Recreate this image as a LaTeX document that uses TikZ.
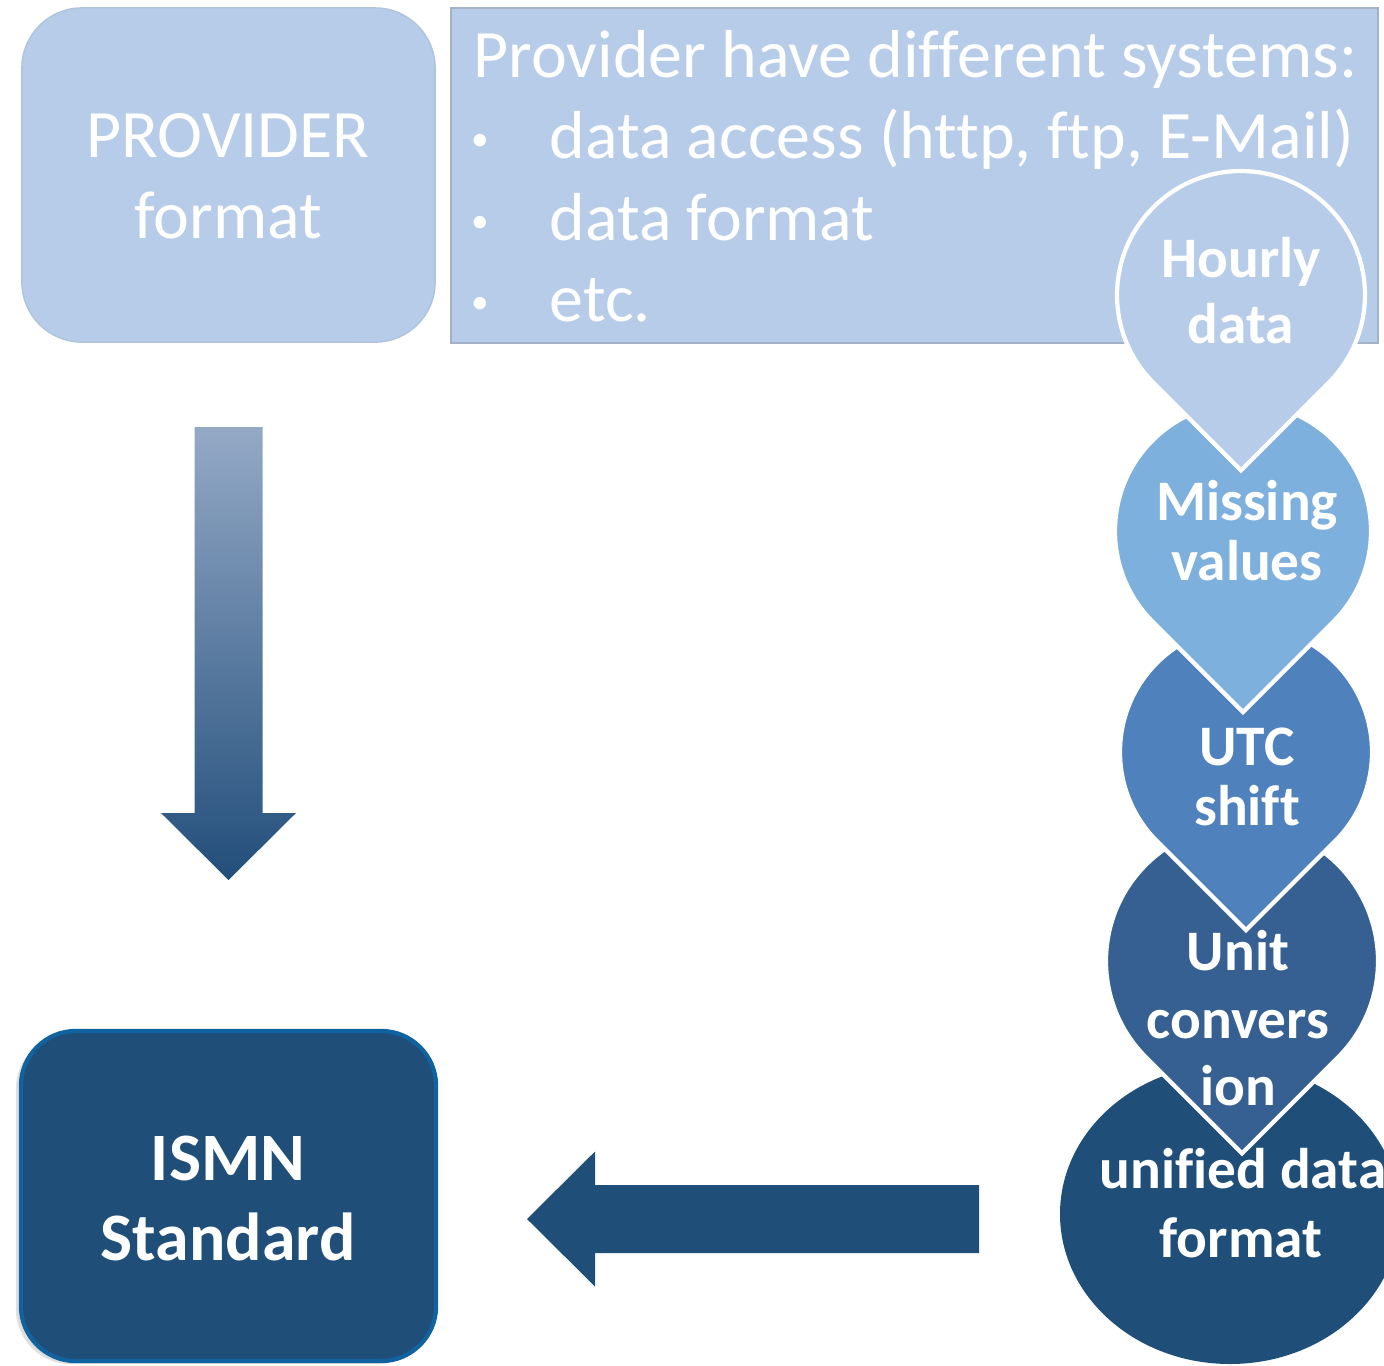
\documentclass[tikz,border=0pt]{standalone}
\usepackage{fontspec}
\setmainfont{Carlito}[Ligatures={NoCommon}]
\usetikzlibrary{calc,shadows}
\definecolor{lightblue}{HTML}{B7CCE8}
\definecolor{missblue}{HTML}{7EB0DD}
\definecolor{utcblue}{HTML}{4F81BD}
\definecolor{unitblue}{HTML}{376092}
\definecolor{darkblue}{HTML}{1F4E79}
\definecolor{ismnborder}{HTML}{10639E}
\definecolor{arrowtop}{HTML}{94A9C6}
\definecolor{arrowbot}{HTML}{224E7B}
\definecolor{boxborder}{HTML}{A3B2C8}
\definecolor{provborder}{HTML}{B0C3DD}
\newcommand\teardrop[3]{%
  \filldraw[dropline, fill=#3] (#1) ++(45:#2) arc[start angle=45, end angle=-225, radius=#2]
    -- ++({#2*0.70711},{#2*0.70711}) -- cycle;}
\begin{document}
\begin{tikzpicture}[x=0.01cm, y=-0.01cm,
  txt/.style={text=white, inner sep=0pt, anchor=base},
  provtxt/.style={txt, font=\fontsize{19.3}{23}\selectfont},
  listtxt/.style={txt, anchor=base west, font=\fontsize{19.3}{23}\selectfont},
  bullettxt/.style={text=white, inner sep=0pt, anchor=center, font=\fontsize{10}{12}\selectfont},
  droptxt/.style={txt, font=\bfseries\fontsize{16.3}{19}\selectfont},
  ismntxt/.style={txt, font=\bfseries\fontsize{19.3}{23}\selectfont},
  dropline/.style={draw=white, line width=1.2pt, line join=miter},
  blockbox/.style={inner sep=0pt, outer sep=0pt},
]
\useasboundingbox (0,0) rectangle (1384,1365);
\begin{scope}
\clip (0,0) rectangle (1384,1365);

% Provider box
\node[blockbox, draw=provborder, line width=0.4pt, fill=lightblue, rounded corners=0.6cm,
      minimum width=4.13cm, minimum height=3.34cm] (prov) at (228.5,175) {};
\node[provtxt] (provA) at (228,157) {PROVIDER};
\node[provtxt] (provB) at (228,238) {format};

% Description box
\node[blockbox, draw=boxborder, line width=0.5pt, fill=lightblue,
      minimum width=9.27cm, minimum height=3.35cm] (desc) at (914.5,175.5) {};
\node[listtxt] (descA) at (473,77) {Provider have different systems:};
\node[bullettxt] (b1) at (480,142) {•};
\node[listtxt] (descB) at (549,158) {data access (http, ftp, E-Mail)};
\node[bullettxt] (b2) at (480,224) {•};
\node[listtxt] (descC) at (549,240) {data format};
\node[bullettxt] (b3) at (480,305) {•};
\node[listtxt] (descD) at (549,321) {etc.};

% Down arrow (gradient)
\coordinate (dtop) at (228.5,427);
\coordinate (dtip) at (228.5,880);
\path[shading=axis, top color=arrowtop, bottom color=arrowbot]
  ($(dtop)+(-34,0)$) -- ($(dtop)+(34,0)$) -- ($(dtip)+(34,-67)$) -- ($(dtip)+(67.5,-67)$)
  -- (dtip) -- ($(dtip)+(-67.5,-67)$) -- ($(dtip)+(-34,-67)$) -- cycle;

% ISMN box
\node[blockbox, draw=ismnborder, line width=1.2pt, fill=darkblue, rounded corners=0.55cm,
      minimum width=4.15cm, minimum height=3.30cm,
      drop shadow={shadow xshift=-0.05cm, shadow yshift=-0.03cm, opacity=0.25}] (ismn) at (228.5,1196) {};
\node[ismntxt] (ismnA) at (228,1180) {ISMN};
\node[ismntxt] (ismnB) at (228,1260) {Standard};

% Left arrow
\coordinate (lend) at (979,1219);
\coordinate (ltip) at (527,1219);
\fill[darkblue] ($(lend)+(0,-34)$) -- ($(ltip)+(68,-34)$) -- ($(ltip)+(68,-67.5)$) -- (ltip)
  -- ($(ltip)+(68,67.5)$) -- ($(ltip)+(68,34)$) -- ($(lend)+(0,34)$) -- cycle;

% Process chain
\coordinate (unified) at (1230,1214);
\coordinate (unit) at (1242,961);
\coordinate (utc) at (1246,752);
\coordinate (miss) at (1243,531);
\coordinate (hourly) at (1241,295);

\fill[darkblue] (unified) ellipse[x radius=170, y radius=150];
\teardrop{unit}{136}{unitblue}
\teardrop{utc}{126}{utcblue}
\teardrop{miss}{128}{missblue}
\teardrop{hourly}{124}{lightblue}

\node[droptxt] (hourlyA) at (1241,277) {Hourly};
\node[droptxt] (hourlyB) at (1241,343) {data};
\node[droptxt] (missA) at (1247,520) {Missing};
\node[droptxt] (missB) at (1247,580) {values};
\node[droptxt] (utcA) at (1247,765) {UTC};
\node[droptxt] (utcB) at (1247,825) {shift};
\node[droptxt] (unitA) at (1238,970) {Unit};
\node[droptxt] (unitB) at (1238,1038) {convers};
\node[droptxt] (unitC) at (1238,1105) {ion};
\node[droptxt] (unifA) at (1243,1188) {unified data};
\node[droptxt] (unifB) at (1241,1257) {format};
\end{scope}
\end{tikzpicture}
\end{document}
